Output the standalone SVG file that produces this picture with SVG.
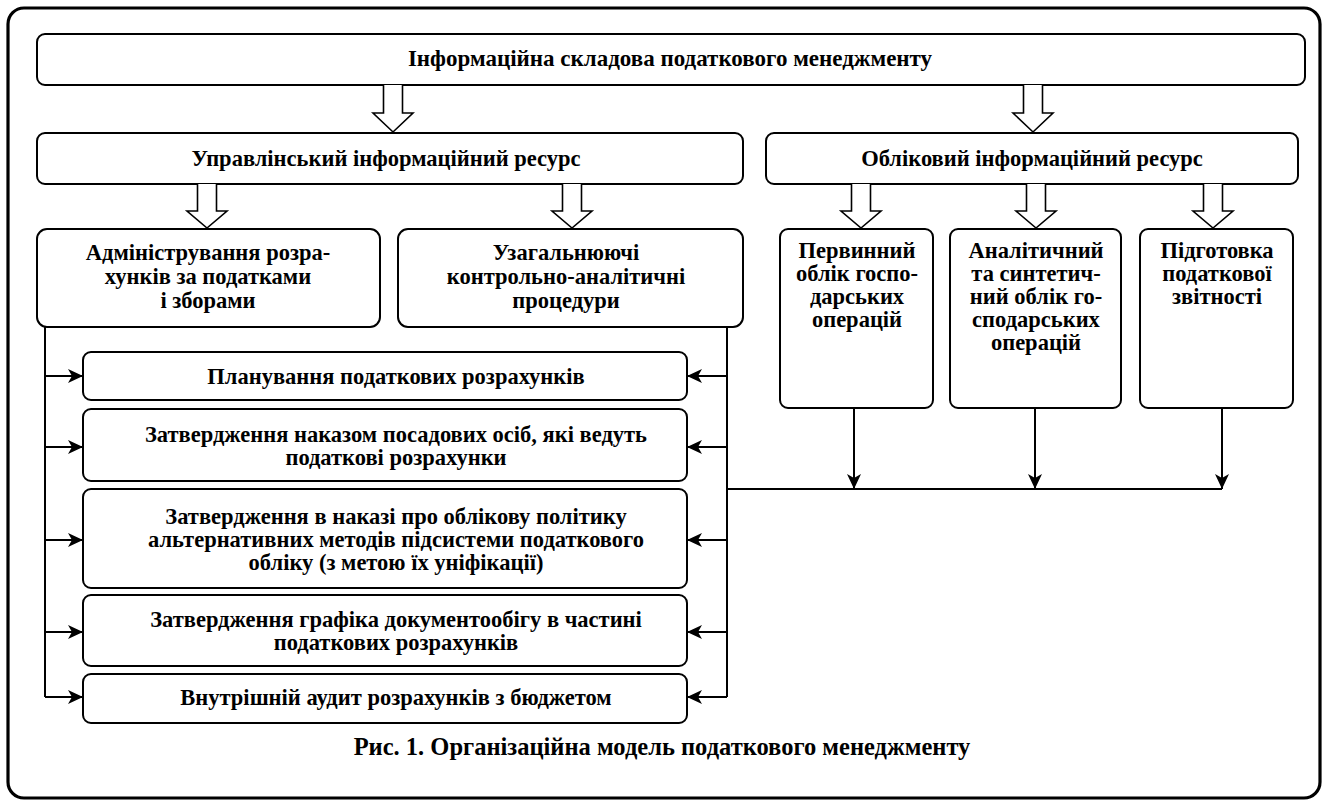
<svg xmlns="http://www.w3.org/2000/svg" width="1324" height="806" viewBox="0 0 1324 806">
<defs>
<marker id="ah" markerUnits="userSpaceOnUse" markerWidth="16" markerHeight="14" refX="15" refY="7" orient="auto">
<path d="M0,0 L15,7 L0,14 L4,7 Z" fill="#000"/>
</marker>
<style>
.box{fill:#fff;stroke:#000;stroke-width:2}
.ha{fill:#fff;stroke:#000;stroke-width:1.6;stroke-linejoin:miter}
.ln{fill:none;stroke:#000;stroke-width:2}
.la{fill:none;stroke:#000;stroke-width:2;marker-end:url(#ah)}
text{font-family:"Liberation Serif","Times New Roman",serif;font-weight:bold;font-size:22.5px;text-anchor:middle;fill:#000}
.ttl{font-size:23px}
.cap{font-size:24.5px}
</style>
</defs>
<rect x="8" y="8" width="1312" height="790" rx="16" fill="#fff" stroke="#000" stroke-width="3.2"/>

<g id="n-top"><rect class="box" x="37" y="34" width="1268" height="51" rx="8"/><text class="ttl" x="670" y="66">Інформаційна складова податкового менеджменту</text></g>
<g id="n-upr"><rect class="box" x="37" y="133" width="706" height="51" rx="8"/><text x="386" y="166">Управлінський інформаційний ресурс</text></g>
<g id="n-obl"><rect class="box" x="766" y="133" width="532" height="51" rx="8"/><text x="1032" y="166">Обліковий інформаційний ресурс</text></g>
<g id="n-adm"><rect class="box" x="37" y="229" width="343" height="98" rx="10"/><text x="208" y="260">Адміністрування розра-</text><text x="208" y="284">хунків за податками</text><text x="208" y="308">і зборами</text></g>
<g id="n-uzag"><rect class="box" x="398" y="229" width="345" height="98" rx="10"/><text x="566" y="260">Узагальнюючі</text><text x="566" y="284">контрольно-аналітичні</text><text x="566" y="308">процедури</text></g>
<g id="n-perv"><rect class="box" x="780" y="229" width="153" height="179" rx="8"/><text x="857" y="258">Первинний</text><text x="857" y="281">облік госпо-</text><text x="857" y="304">дарських</text><text x="857" y="327">операцій</text></g>
<g id="n-anal"><rect class="box" x="950" y="229" width="171" height="179" rx="8"/><text x="1036" y="258">Аналітичний</text><text x="1036" y="281">та синтетич-</text><text x="1036" y="304">ний облік го-</text><text x="1036" y="327">сподарських</text><text x="1036" y="350">операцій</text></g>
<g id="n-pidg"><rect class="box" x="1140" y="229" width="153" height="179" rx="8"/><text x="1217" y="258">Підготовка</text><text x="1217" y="281">податкової</text><text x="1217" y="304">звітності</text></g>
<g id="n-b1"><rect class="box" x="83" y="352" width="604" height="48" rx="8"/><text x="396" y="384">Планування податкових розрахунків</text></g>
<g id="n-b2"><rect class="box" x="83" y="409" width="604" height="72" rx="8"/><text x="396" y="442">Затвердження наказом посадових осіб, які ведуть</text><text x="396" y="465">податкові розрахунки</text></g>
<g id="n-b3"><rect class="box" x="83" y="489" width="604" height="99" rx="8"/><text x="396" y="524">Затвердження в наказі про облікову політику</text><text x="396" y="547">альтернативних методів підсистеми податкового</text><text x="396" y="570">обліку (з метою їх уніфікації)</text></g>
<g id="n-b4"><rect class="box" x="83" y="595" width="604" height="71" rx="8"/><text x="396" y="627">Затвердження графіка документообігу в частині</text><text x="396" y="650">податкових розрахунків</text></g>
<g id="n-b5"><rect class="box" x="83" y="674" width="604" height="49" rx="8"/><text x="396" y="705">Внутрішній аудит розрахунків з бюджетом</text></g>

<g id="connectors">
<path class="ha" d="M383.5,85 V113 H373 L393,132 L413,113 H402.5 V85"/>
<path class="ha" d="M1023.5,85 V113 H1013 L1033,132 L1053,113 H1042.5 V85"/>
<path class="ha" d="M197.5,184 V211 H187 L207,228 L227,211 H216.5 V184"/>
<path class="ha" d="M562.5,184 V211 H552 L572,228 L592,211 H581.5 V184"/>
<path class="ha" d="M851.5,184 V211 H841 L861,228 L881,211 H870.5 V184"/>
<path class="ha" d="M1026.5,184 V211 H1016 L1036,228 L1056,211 H1045.5 V184"/>
<path class="ha" d="M1203.5,184 V211 H1193 L1213,228 L1233,211 H1222.5 V184"/>
<path class="ln" d="M45,327 V697"/>
<path class="la" d="M45,376 H83"/>
<path class="la" d="M45,447 H83"/>
<path class="la" d="M45,540 H83"/>
<path class="la" d="M45,632 H83"/>
<path class="la" d="M45,697 H83"/>
<path class="ln" d="M727,327 V697"/>
<path class="la" d="M727,376 H687"/>
<path class="la" d="M727,447 H687"/>
<path class="la" d="M727,540 H687"/>
<path class="la" d="M727,632 H687"/>
<path class="la" d="M727,697 H687"/>
<path class="ln" d="M727,489 H1222"/>
<path class="la" d="M854,408 V489"/>
<path class="la" d="M1035,408 V489"/>
<path class="la" d="M1222,408 V489"/>
</g>
<text class="cap" x="662" y="755">Рис. 1. Організаційна модель податкового менеджменту</text>
</svg>
